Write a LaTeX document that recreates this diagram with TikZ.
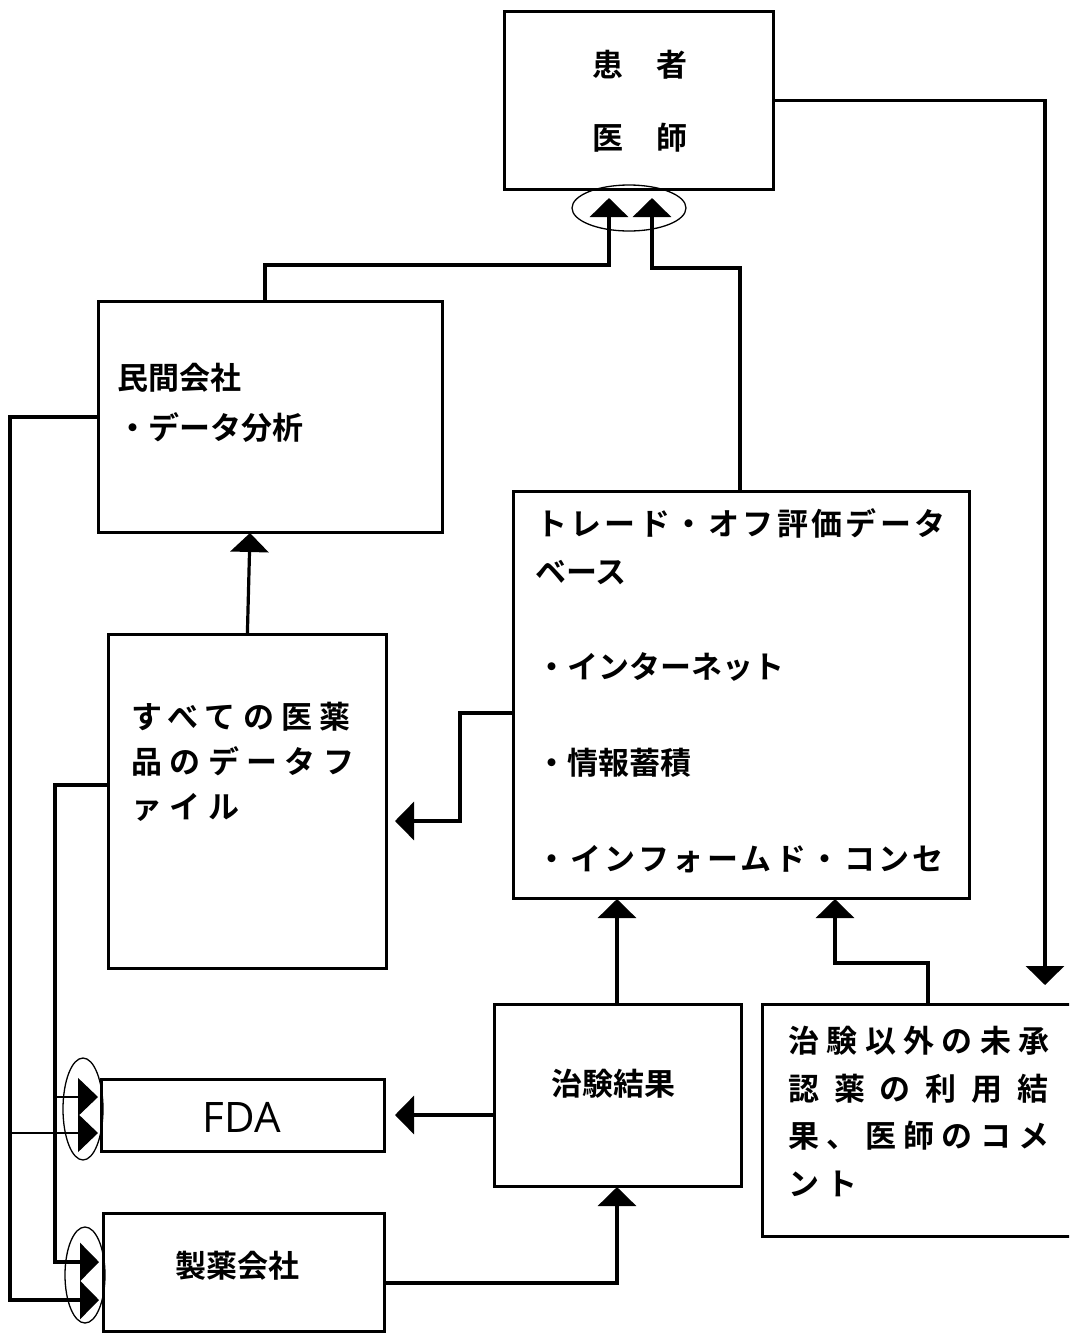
\documentclass[tikz,border=0pt]{standalone}
\usepackage{fontspec}
\usetikzlibrary{arrows.meta}
\newfontfamily\jpA{Noto Sans CJK JP Bold}
\newfontfamily\jpB{Noto Sans CJK JP Bold}[LetterSpace=11]
\newfontfamily\jpC{Noto Sans CJK JP Bold}[LetterSpace=24]
\newfontfamily\jpD{Noto Sans CJK JP Bold}[LetterSpace=48]
\newfontfamily\fdafont{Open Sans}
\tikzset{
  boxn/.style={draw, line width=2.8pt, inner sep=0pt, anchor=north west},
  jtxt/.style={anchor=base west, inner sep=0pt, font=\jpA\fontsize{31pt}{31pt}\selectfont},
  jtxtB/.style={jtxt, font=\jpB\fontsize{31pt}{31pt}\selectfont},
  jtxtC/.style={jtxt, font=\jpC\fontsize{31pt}{31pt}\selectfont},
  jtxtD/.style={jtxt, font=\jpD\fontsize{31pt}{31pt}\selectfont},
  conn/.style={line width=3.2pt, -{Triangle[length=19pt,width=38pt]}},
  thinconn/.style={line width=1.3pt, -{Triangle[length=20pt,width=38pt]}},
  ring/.style={line width=1.3pt},
}
\begin{document}
\begin{tikzpicture}[x=1pt,y=-1pt,line join=miter]
\useasboundingbox (0,0) rectangle (1069,1334);
\clip (0,0) rectangle (1069,1334);

% boxes
\node[boxn, minimum width=269pt, minimum height=178pt] (pt) at (503,10) {};
\node[boxn, minimum width=344pt, minimum height=231pt] (minkan) at (97,300) {};
\node[boxn, minimum width=456pt, minimum height=407pt] (trade) at (512,490) {};
\node[boxn, minimum width=278pt, minimum height=334pt] (allfile) at (107,633) {};
\node[boxn, minimum width=247pt, minimum height=182pt] (chiken) at (493,1003) {};
\node[boxn, minimum width=330pt, minimum height=232pt] (other) at (761,1003) {};
\node[boxn, minimum width=283pt, minimum height=72pt] (fda) at (100,1078) {};
\node[boxn, minimum width=281pt, minimum height=118pt] (pharma) at (102,1212) {};

% texts
\node[jtxt] (t1) at (592,76) {患\hspace{33pt}者};
\node[jtxt] (t2) at (592,149) {医\hspace{33pt}師};
\node[jtxt] (t3) at (117,389) {民間会社};
\node[jtxt] (t4) at (117,439) {・データ分析};
\node[jtxtB] (t5) at (536,535) {トレード・オフ評価データ};
\node[jtxt] (t6) at (535,583) {ベース};
\node[jtxt] (t7) at (536,678) {・インターネット};
\node[jtxt] (t8) at (536,774) {・情報蓄積};
\node[jtxtB] (t9) at (536,870) {・インフォームド・コンセ};
\node[jtxtC] (t10) at (131,728) {すべての医薬};
\node[jtxtC] (t11) at (131,773) {品のデータフ};
\node[jtxtC] (t12) at (131,818) {ァイル};
\node[jtxt] (t13) at (551,1095) {治験結果};
\node[jtxt] (t14) at (175,1277) {製薬会社};
\node[jtxtC] (t15) at (788,1052) {治験以外の未承};
\node[jtxtD] (t16) at (788,1100) {認薬の利用結};
\node[jtxtC] (t17) at (788,1147) {果、医師のコメ};
\node[jtxtC] (t18) at (788,1195) {ント};
\node[inner sep=0pt, font=\fdafont\fontsize{42pt}{42pt}\selectfont] (t19) at (242,1117) {FDA};

% ellipses
\draw[ring] (629,208) ellipse [x radius=57pt, y radius=23pt];
\draw[ring] (83,1109) ellipse [x radius=20pt, y radius=51pt];
\draw[ring] (85,1275) ellipse [x radius=20pt, y radius=48pt];

% tip coordinates
\coordinate (tipA) at (609,198);
\coordinate (tipB) at (652,198);
\coordinate (tipR) at (1045,985);
\coordinate (tipAll) at (395,821);
\coordinate (tipFda) at (395,1115);
\coordinate (tipT1) at (617,899);
\coordinate (tipT2) at (835,899);
\coordinate (tipCh) at (617,1187);
\coordinate (tipM) at (250,533);
\coordinate (tipF1) at (98,1097);
\coordinate (tipF2) at (98,1133);
\coordinate (tipP1) at (99,1262);
\coordinate (tipP2) at (99,1300);

% connectors
\draw[conn] (265,0 |- minkan.north) -- (265,265) -| (tipA);
\draw[conn] (740,0 |- trade.north) -- (740,268) -| (tipB);
\draw[conn] (pt.east) -| (tipR);
\draw[conn] (allfile.north) -- (tipM);
\draw[conn] (0,713 -| trade.west) -- (460,713) |- (tipAll);
\draw[conn] (chiken.north -| tipT1) -- (tipT1);
\draw[conn] (928,0 |- other.north) -- (928,963) -| (tipT2);
\draw[conn] (0,1115 -| chiken.west) -- (tipFda);
\draw[conn] (0,1283 -| pharma.east) -| (tipCh);
\draw[conn] (0,417 -| minkan.west) -- (10,417) |- (tipP2);
\draw[conn] (0,785 -| allfile.west) -- (55,785) |- (tipP1);
\draw[thinconn] (55,1097) -- (tipF1);
\draw[thinconn] (10,1133) -- (tipF2);
\end{tikzpicture}
\end{document}
